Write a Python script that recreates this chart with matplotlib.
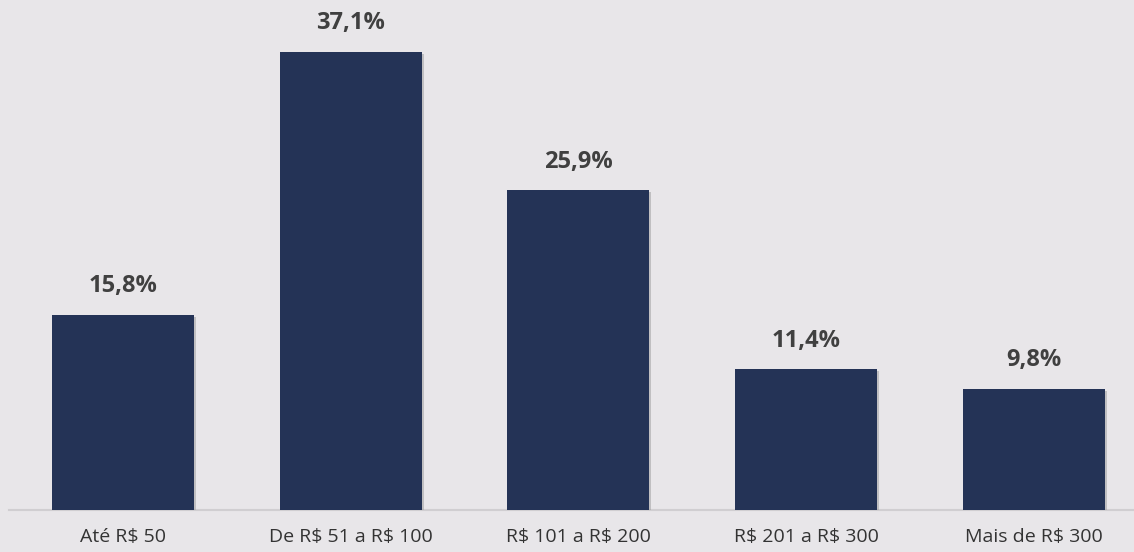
import matplotlib
matplotlib.use("Agg")
import matplotlib.pyplot as plt
import matplotlib.patheffects as pe

plt.rcParams["text.parse_math"] = False

categories = ["Até R$ 50", "De R$ 51 a R$ 100", "R$ 101 a R$ 200", "R$ 201 a R$ 300", "Mais de R$ 300"]
values = [15.8, 37.1, 25.9, 11.4, 9.8]
labels = ["15,8%", "37,1%", "25,9%", "11,4%", "9,8%"]

bg = "#E8E6E9"
bar_color = "#243356"

fig = plt.figure(figsize=(11.34, 5.52), dpi=100, facecolor=bg)
ax = fig.add_axes([9/1134, 42/552, 5*227.7/1134, 493.8/552])
ax.set_facecolor(bg)

x = list(range(len(categories)))
bars = ax.bar(x, values, width=0.624, color=bar_color, zorder=3)
for b in bars:
    b.set_path_effects([pe.SimplePatchShadow(offset=(1.5, -1.5), shadow_rgbFace="#9a9a9a", alpha=0.5), pe.Normal()])

for xi, v, lab in zip(x, values, labels):
    ax.annotate(lab, (xi, v), xytext=(0, 12), textcoords="offset points",
                ha="center", va="bottom", fontsize=17, fontweight="bold",
                color="#404040", family="Open Sans")

ax.set_xlim(-0.5, 4.5)
ax.set_ylim(0, 40)
ax.set_xticks(x)
ax.set_xticklabels(categories, fontsize=14, color="#333333", family="Open Sans")
ax.tick_params(axis="x", length=0, pad=13)
ax.set_yticks([])
for s in ["top", "right", "left"]:
    ax.spines[s].set_visible(False)
ax.spines["bottom"].set_color("#D0CED1")
ax.spines["bottom"].set_linewidth(1.5)

fig.savefig("out.png", dpi=100, facecolor=bg)
